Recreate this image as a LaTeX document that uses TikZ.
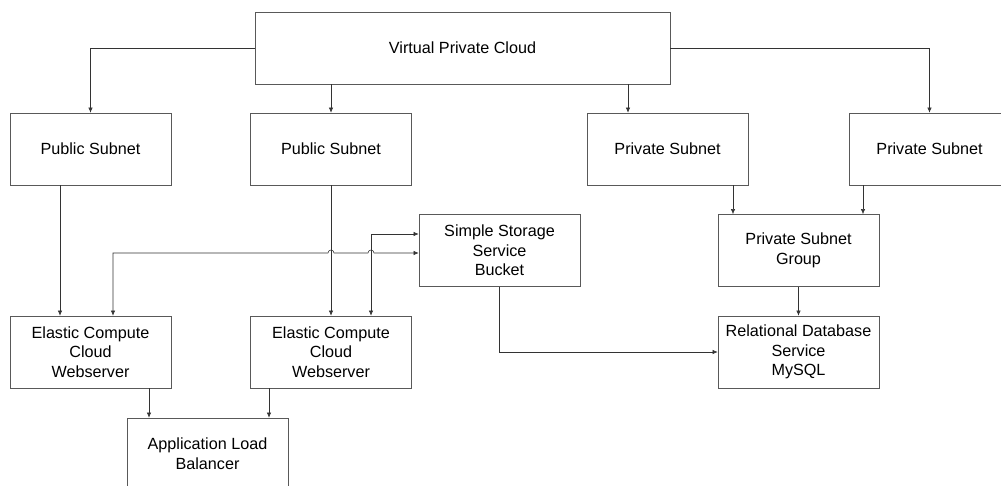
\documentclass[tikz,border=0pt]{standalone}
\usepackage{fontspec}
\setmainfont{Liberation Sans}
\usetikzlibrary{arrows.meta,positioning,calc}
\tikzset{
  awsbox/.style={draw=black!65, rectangle, minimum width=4.025cm, minimum height=1.8cm,
    align=center, inner sep=2pt, font=\fontsize{11.5}{14}\selectfont},
  awsarrow/.style={-{Latex[length=1.3mm, width=1.1mm]}, draw=black!80, thin},
  awsdarrow/.style={{Latex[length=1.3mm, width=1.1mm]}-{Latex[length=1.3mm, width=1.1mm]}, draw=black!80, thin},
  awsline/.style={draw=black!65, thin},
}
\begin{document}
\begin{tikzpicture}[x=0.025cm, y=-0.025cm]
  \useasboundingbox (0,0) rectangle (1001,486);

  \node[awsbox, minimum width=10.375cm] (vpc) at (462.5,48) {Virtual Private Cloud};
  \node[awsbox] (pub1) at (90.5,149) {Public Subnet};
  \node[awsbox] (pub2) at (331,149) {Public Subnet};
  \node[awsbox] (priv1) at (667.5,149) {Private Subnet};
  \node[awsbox] (priv2) at (929.5,149) {Private Subnet};
  \node[awsbox] (s3) at (499.5,250.5) {Simple Storage\\Service\\Bucket};
  \node[awsbox] (psg) at (798.5,250.5) {Private Subnet\\Group};
  \node[awsbox] (ec1) at (90.5,352) {Elastic Compute\\Cloud\\Webserver};
  \node[awsbox] (ec2) at (331,352) {Elastic Compute\\Cloud\\Webserver};
  \node[awsbox] (rds) at (798.5,352) {Relational Database\\Service\\MySQL};
  \node[awsbox] (alb) at (207.5,454) {Application Load\\Balancer};

  % vpc to subnets
  \draw[awsarrow] (vpc.west) -| (pub1.north);
  \draw[awsarrow] (vpc.east) -| (priv2.north);
  \draw[awsarrow] (vpc.south -| pub2.north) -- (pub2.north);
  \draw[awsarrow] (vpc.south -| 628,0) -- (priv1.north -| 628,0);

  % subnets downwards
  \draw[awsarrow] (pub1.south -| 60,0) -- (ec1.north -| 60,0);
  \draw[awsarrow] (pub2.south) -- (ec2.north);
  \draw[awsarrow] (priv1.south -| 733,0) -- (psg.north -| 733,0);
  \draw[awsarrow] (priv2.south -| 863,0) -- (psg.north -| 863,0);
  \draw[awsarrow] (psg.south) -- (rds.north);
  \draw[awsarrow] (s3.south) |- (rds.west);

  % webservers and bucket
  \draw[awsdarrow] (ec1.north -| 113,0) -- (113,253) -- (328,253)
    arc[start angle=180, end angle=0, radius=0.075cm] -- (368,253)
    arc[start angle=180, end angle=0, radius=0.075cm] -- (s3.west |- 0,253);
  \draw[awsdarrow] (ec2.north -| 371,0) |- (s3.west |- 0,234);

  % load balancer
  \draw[awsarrow] (ec1.south -| 149,0) -- (alb.north -| 149,0);
  \draw[awsarrow] (ec2.south -| 269,0) -- (alb.north -| 269,0);
\end{tikzpicture}
\end{document}
